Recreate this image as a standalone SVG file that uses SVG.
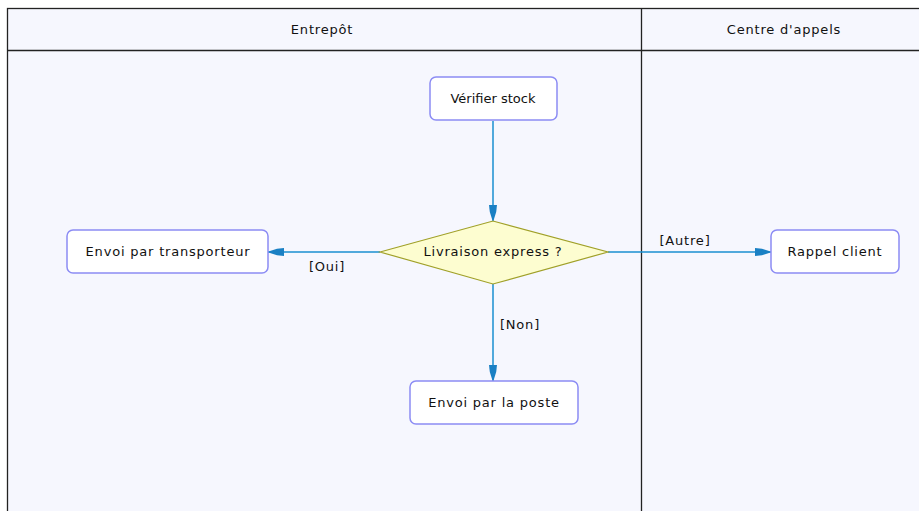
<svg xmlns="http://www.w3.org/2000/svg" width="919" height="511" viewBox="0 0 919 511">
<defs>
<style>
text{font-family:"DejaVu Sans","Liberation Sans",sans-serif;font-size:13px;letter-spacing:0.8px;fill:#111;}
.node{fill:#fff;stroke:#8c8cf4;stroke-width:1.5;}
.dec{fill:#fdfdd0;stroke:#a0a028;stroke-width:1.2;}
.lane{fill:#f6f7fe;stroke:#222;stroke-width:1.3;}
.conn{stroke:#1a8fd0;stroke-width:1.5;fill:none;marker-end:url(#ah);}
</style>
<marker id="ah" viewBox="0 0 16 10" refX="16" refY="5" markerWidth="16" markerHeight="10" markerUnits="userSpaceOnUse" orient="auto">
<path d="M0,1 L7,1.8 L14,4 L16,5 L14,6 L7,8.2 L0,9 Z" fill="#1a80c4"/>
</marker>
</defs>
<rect x="0" y="0" width="919" height="511" fill="#fff"/>
<g id="swimlanes">
<rect class="lane" x="7.5" y="8.5" width="920" height="510"/>
<line x1="7.5" y1="50.5" x2="919" y2="50.5" stroke="#222" stroke-width="1.3"/>
<line x1="641.5" y1="8.5" x2="641.5" y2="511" stroke="#222" stroke-width="1.3"/>
<text x="322" y="34" text-anchor="middle">Entrepôt</text>
<text x="784" y="34" text-anchor="middle">Centre d'appels</text>
</g>
<g id="connectors">
<line class="conn" x1="493" y1="121" x2="493" y2="221"/>
<line class="conn" x1="380" y1="252" x2="268" y2="252"/>
<line class="conn" x1="608" y1="252" x2="771" y2="252"/>
<line class="conn" x1="493" y1="284" x2="493" y2="381"/>
<text x="327" y="271" text-anchor="middle">[Oui]</text>
<text x="685" y="245" text-anchor="middle">[Autre]</text>
<text x="520" y="329" text-anchor="middle">[Non]</text>
</g>
<g id="verifier">
<rect class="node" x="430" y="77" width="127" height="43" rx="6"/>
<text x="493" y="103" text-anchor="middle" style="letter-spacing:0">Vérifier stock</text>
</g>
<g id="decision">
<polygon class="dec" points="380,252 493,221 608,252 493,284"/>
<text x="493" y="256" text-anchor="middle">Livraison express ?</text>
</g>
<g id="transporteur">
<rect class="node" x="67" y="230" width="201" height="43" rx="6"/>
<text x="168" y="256" text-anchor="middle">Envoi par transporteur</text>
</g>
<g id="rappel">
<rect class="node" x="771" y="230" width="128" height="43" rx="6"/>
<text x="835" y="256" text-anchor="middle">Rappel client</text>
</g>
<g id="poste">
<rect class="node" x="410" y="381" width="168" height="43" rx="6"/>
<text x="494" y="407" text-anchor="middle">Envoi par la poste</text>
</g>
</svg>
